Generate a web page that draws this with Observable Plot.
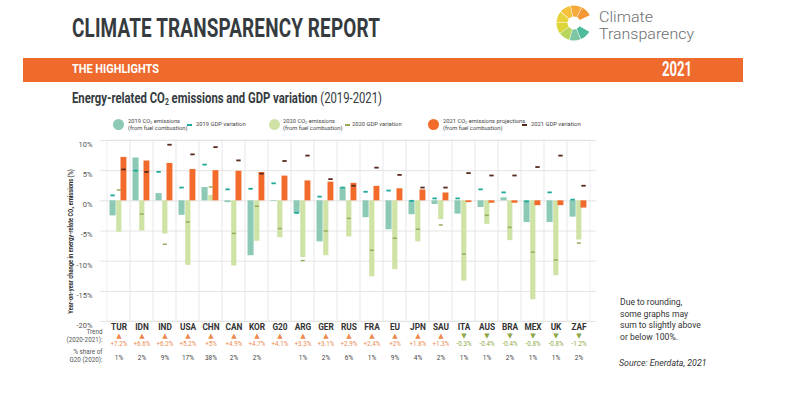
<!DOCTYPE html>
<html><head><meta charset="utf-8">
<script src="https://cdn.jsdelivr.net/npm/d3@7"></script>
<script src="https://cdn.jsdelivr.net/npm/@observablehq/plot@0.6"></script>
<style>
html,body{margin:0;padding:0;background:#fff;}
#page{position:relative;width:800px;height:395px;overflow:hidden;font-family:Roboto,"Open Sans",sans-serif;}
.abs{position:absolute;white-space:nowrap;line-height:1;}
sub{font-size:0.6em;vertical-align:-0.25em;line-height:0;}
</style></head><body><div id="page"></div>
<script>
// ---------- DATA ----------
const countries = ["TUR","IDN","IND","USA","CHN","CAN","KOR","G20","ARG","GER","RUS","FRA","EU","JPN","SAU","ITA","AUS","BRA","MEX","UK","ZAF"];
const co2_2019 = [-2.5, 7.1, 1.2, -2.4, 2.2, -0.3, -9.1, -0.1, -2.1, -6.8, 2.2, -2.8, -4.8, -2.3, -0.6, -2.2, -1.1, 0.5, -3.6, -3.6, -2.7];
const gdp_2019 = [0.9, 5.0, 4.8, 2.2, 6.0, 1.9, 2.0, 2.9, -2.0, 0.7, 2.2, 1.5, 1.7, 0.0, 0.4, 0.4, 1.9, 1.4, -0.1, 1.4, 0.2];
const co2_2020 = [-5.2, -5.0, -5.5, -10.7, 0.9, -10.8, -6.7, -6.1, -9.4, -9.1, -6.0, -12.6, -11.4, -6.8, -3.1, -13.3, -3.9, -6.6, -16.4, -12.4, -6.5];
const gdp_2020 = [1.8, -2.2, -7.2, -3.5, 2.3, -5.4, -0.9, -4.6, -9.9, -5.0, -2.9, -8.2, -6.2, -4.7, -4.0, -8.8, -2.4, -4.4, -8.5, -9.8, -7.0];
const co2_2021 = [7.2, 6.6, 6.2, 5.2, 5.0, 4.9, 4.7, 4.1, 3.3, 3.1, 2.9, 2.4, 2.0, 1.8, 1.3, -0.3, -0.4, -0.4, -0.8, -0.8, -1.2];
const gdp_2021 = [5.2, 4.8, 9.3, 7.7, 8.9, 6.7, 4.5, 6.6, 7.5, 3.6, 2.5, 5.5, 4.3, 2.2, 2.2, 4.6, 4.2, 4.2, 5.6, 7.5, 2.5];
const trendLabels = ["+7.2%","+6.6%","+6.2%","+5.2%","+5%","+4.9%","+4.7%","+4.1%","+3.3%","+3.1%","+2.9%","+2.4%","+2%","+1.8%","+1.3%","-0.3%","-0.4%","-0.4%","-0.8%","-0.8%","-1.2%"];
const shareLabels = ["1%","2%","9%","17%","38%","2%","2%","","1%","2%","6%","1%","9%","4%","2%","1%","1%","2%","1%","1%","2%"];
const yTicks = [10, 5, 0, -5, -10, -15, -20];
const yTitle = "Year-on-year change in energy-relate CO\u2082 emissions (%)";
const trendRowLabel = "Trend\n(2020-2021):";
const shareRowLabel = "% share of\nG20 (2020):";
const legendCO2 = ["2019 CO<sub>2</sub> emissions<br>(from fuel combustion)", "2020 CO<sub>2</sub> emissions<br>(from fuel combustion)", "2021 CO<sub>2</sub> emissions projections<br>(from fuel combustion)"];
const legendGDP = ["2019 GDP variation", "2020 GDP variation", "2021 GDP variation"];
const titleText = "CLIMATE TRANSPARENCY REPORT";
const bandLeft = "THE HIGHLIGHTS", bandRight = "2021";
const subtitleHTML = "<b>Energy-related CO<sub>2</sub> emissions and GDP variation</b> <span style='font-weight:400'>(2019-2021)</span>";
const noteLines = ["Due to rounding,", "some graphs may", "sum to slightly above", "or below 100%."];
const sourceText = "Source: Enerdata, 2021";
const logoWords = ["Climate", "Transparency"];

// ---------- STYLE ----------
const C = {
  teal: "#8ccab5", tealDash: "#1fa99b",
  green: "#cfe3a7", greenDash: "#93ad5b",
  orange: "#f26b2b", darkDash: "#5a2a20",
  up: "#ec8a4f", down: "#8fa846",
  grid: "#e4e4e4", vgrid: "#efefef", text: "#333"
};

const rows = countries.map((c, i) => ({
  c, co19: co2_2019[i], g19: gdp_2019[i], co20: co2_2020[i], g20: gdp_2020[i],
  co21: co2_2021[i], g21: gdp_2021[i], trend: trendLabels[i], share: shareLabels[i]
}));

const page = document.getElementById("page");

// ---------- CHART ----------
const chart = Plot.plot({
  width: 800, height: 395,
  marginTop: 140, marginBottom: 74, marginLeft: 100, marginRight: 204,
  x: {type: "band", domain: countries, padding: 0, axis: null},
  y: {domain: [-20, 10], axis: null},
  marks: [
    Plot.barY(countries, {x: d => d, y1: -20, y2: 10, fill: "none", stroke: C.vgrid}),
    Plot.ruleY(yTicks, {stroke: C.grid}),
    Plot.barY(rows, {x: "c", y1: 0, y2: "co19", fill: C.teal, insetLeft: 2.5, insetRight: 14.4}),
    Plot.barY(rows, {x: "c", y1: 0, y2: "co20", fill: C.green, insetLeft: 9.2, insetRight: 8.6}),
    Plot.barY(rows, {x: "c", y1: 0, y2: "co21", fill: C.orange, insetLeft: 13.5, insetRight: 3.6}),
    Plot.tickY(rows, {x: "c", y: "g19", stroke: C.tealDash, strokeWidth: 1.8, insetLeft: 3.4, insetRight: 15.2}),
    Plot.tickY(rows, {x: "c", y: "g20", stroke: C.greenDash, strokeWidth: 1.5, insetLeft: 9.8, insetRight: 9.2}),
    Plot.tickY(rows, {x: "c", y: "g21", stroke: C.darkDash, strokeWidth: 1.8, insetLeft: 14.3, insetRight: 4.3}),
    // y tick labels
    Plot.text(yTicks, {y: d => d, text: d => `${d}%`, frameAnchor: "left", textAnchor: "end", dx: -8, dy: 4, fontSize: 7.5, fill: "#555"}),
    // y title
    Plot.text([yTitle], {text: d => d, frameAnchor: "left", textAnchor: "middle", rotate: -90, dx: -29.5, dy: 10.5, fontSize: 7, fontWeight: 700, fill: C.text}),
    // category labels
    Plot.text(countries, {x: d => d, text: d => d, frameAnchor: "bottom", dy: 8, fontSize: 8.3, fontWeight: 700, fill: C.text}),
    // trend triangles and values
    Plot.text(rows, {filter: d => d.co21 >= 0, x: "c", text: () => "\u25B2", frameAnchor: "bottom", dy: 16.5, fontSize: 7, fontFamily: "DejaVu Sans", fill: C.up}),
    Plot.text(rows, {filter: d => d.co21 < 0, x: "c", text: () => "\u25BC", frameAnchor: "bottom", dy: 16.5, fontSize: 7, fontFamily: "DejaVu Sans", fill: C.down}),
    Plot.text(rows, {filter: d => d.co21 >= 0, x: "c", text: "trend", frameAnchor: "bottom", dy: 24.5, fontSize: 6.3, fill: C.up}),
    Plot.text(rows, {filter: d => d.co21 < 0, x: "c", text: "trend", frameAnchor: "bottom", dy: 24.5, fontSize: 6.3, fill: C.down}),
    // share values
    Plot.text(rows, {x: "c", text: "share", frameAnchor: "bottom", dy: 38.5, fontSize: 6.5, fill: "#444"}),
    // row labels
    Plot.text([trendRowLabel], {text: d => d, frameAnchor: "bottom-left", textAnchor: "end", dx: 2, dy: 20.5, fontSize: 6.3, lineHeight: 1.2, fill: "#555"}),
    Plot.text([shareRowLabel], {text: d => d, frameAnchor: "bottom-left", textAnchor: "end", dx: 2, dy: 40, fontSize: 6.3, lineHeight: 1.2, fill: "#555"})
  ]
});
chart.style.position = "absolute";
chart.style.left = "0px";
chart.style.top = "0px";
chart.style.background = "transparent";
chart.style.overflow = "visible";
chart.style.fontFamily = "Roboto, sans-serif";
page.appendChild(chart);
// condense the rotated axis title along its own direction, keeping it centred
d3.select(chart).selectAll("text").filter(function () { return this.textContent.startsWith("Year-on-year"); })
  .each(function () {
    const len = this.getComputedTextLength();
    const t = this.getAttribute("transform") || "";
    if (len > 0) this.setAttribute("transform", `${t} scale(${145 / len},1)`);
  });

// ---------- HEADER / LEGEND / NOTES ----------
function addDiv(html, style) {
  const d = document.createElement("div");
  d.className = "abs";
  d.innerHTML = html;
  Object.assign(d.style, style);
  page.appendChild(d);
  return d;
}
function fitWidth(d, w) {
  const r = d.getBoundingClientRect().width;
  if (r > 0) { d.style.transformOrigin = "0 0"; d.style.transform = `scaleX(${w / r})`; }
}

fitWidth(addDiv(titleText, {left: "72px", top: "14.5px", fontSize: "26.7px", fontWeight: "700", color: "#353b3e", letterSpacing: "0.2px"}), 308);

addDiv("", {left: "23px", top: "58px", width: "720px", height: "24px", background: "#ef6a2d"});
fitWidth(addDiv(bandLeft, {left: "72px", top: "63.3px", fontSize: "12.7px", fontWeight: "700", color: "#fff"}), 87);
fitWidth(addDiv(bandRight, {left: "662px", top: "60.4px", fontSize: "19.7px", fontWeight: "700", color: "#fff"}), 30);

fitWidth(addDiv(subtitleHTML, {left: "72px", top: "91.2px", fontSize: "14px", color: "#353b3e"}), 310);

// logo
(function () {
  const cx = 19, cy = 20;
  const svg = d3.create("svg").attr("width", 40).attr("height", 44)
    .style("position", "absolute").style("left", "555px").style("top", "3px");
  const segColors = ["#4dbb9c", "#7fc7a3", "#b9d55b", "#dcd63a", "#e8d33c", "#f6c23d", "#f7ab3c", "#f39a37"];
  const start = 0.66 * Math.PI, end = 2.36 * Math.PI;
  const step = (end - start) / segColors.length;
  const arc = d3.arc().innerRadius(6.5).outerRadius(17.5).padAngle(0.03);
  svg.append("g").attr("transform", `translate(${cx},${cy})`).selectAll("path").data(segColors).join("path")
    .attr("d", (c, i) => arc({startAngle: start + i * step, endAngle: start + (i + 1) * step}))
    .attr("fill", c => c);
  page.appendChild(svg.node());
})();
fitWidth(addDiv(logoWords[0], {left: "599px", top: "10px", fontSize: "15px", lineHeight: "14px", fontWeight: "300", color: "#6d6e70"}), 54);
fitWidth(addDiv(logoWords[1], {left: "599px", top: "27px", fontSize: "15px", lineHeight: "14px", fontWeight: "300", color: "#6d6e70"}), 95);

// legend
const legendLayout = [
  {cx: 118, text: 128, dash: 187, gdp: 196, fill: C.teal, dashColor: C.tealDash},
  {cx: 274, text: 283, dash: 345, gdp: 352, fill: C.green, dashColor: C.greenDash},
  {cx: 433.5, text: 443, dash: 522, gdp: 531, fill: C.orange, dashColor: C.darkDash}
];
legendLayout.forEach((L, i) => {
  addDiv("", {left: (L.cx - 5.5) + "px", top: "118.5px", width: "11px", height: "11px", borderRadius: "50%", background: L.fill});
  addDiv(legendCO2[i], {left: L.text + "px", top: "117.5px", fontSize: "5.8px", lineHeight: "7px", color: "#444"});
  addDiv("", {left: L.dash + "px", top: "123.5px", width: "5px", height: "2px", background: L.dashColor});
  addDiv(legendGDP[i], {left: L.gdp + "px", top: "121px", fontSize: "5.8px", lineHeight: "7px", color: "#444"});
});

// notes
addDiv(noteLines.join("<br>"), {left: "620px", top: "297px", fontSize: "8.6px", lineHeight: "11.5px", color: "#333"});
addDiv(sourceText, {left: "619px", top: "358px", fontSize: "8.8px", lineHeight: "11px", fontStyle: "italic", color: "#333"});
</script></body></html>
